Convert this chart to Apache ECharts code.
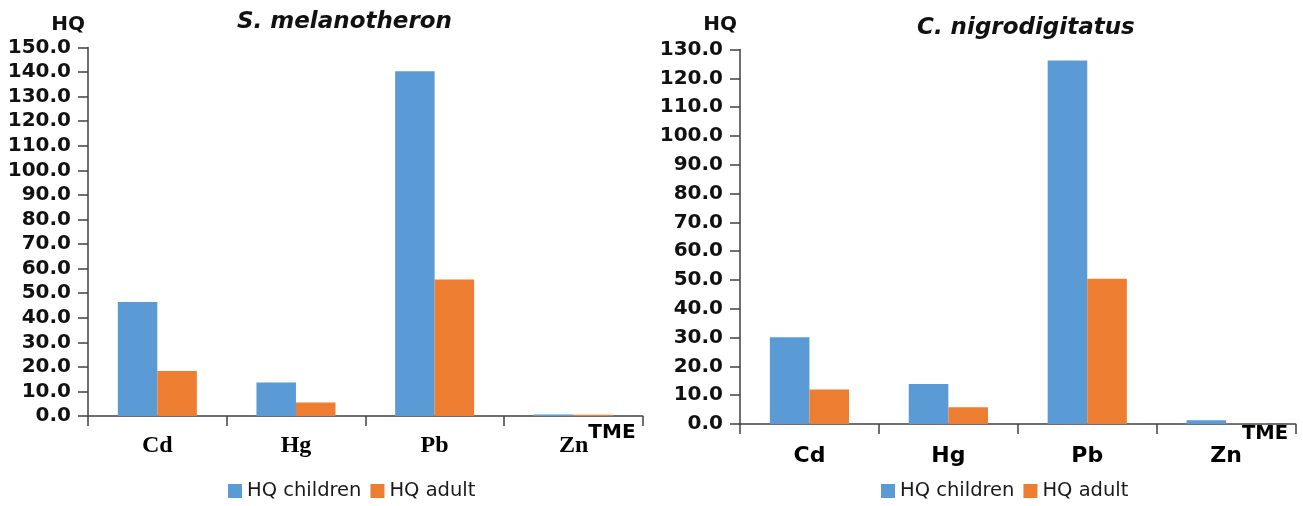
<!DOCTYPE html>
<html>
<head>
<meta charset="utf-8">
<title>Hazard quotients of trace metals</title>
<script src="https://cdn.jsdelivr.net/npm/echarts@6/dist/echarts.min.js"></script>
<style>
  html, body { margin: 0; padding: 0; background: #ffffff; }
  #chart { width: 1303px; height: 506px; }
</style>
</head>
<body>
<div id="chart"></div>
<script>
// Metals on the category axis
const categories = ['Cd', 'Hg', 'Pb', 'Zn'];
const seriesNames = ['HQ children', 'HQ adult'];

// Hazard quotients, S. melanotheron
const melanotheronChildren = [46.4, 13.6, 140.3, 0.6];
const melanotheronAdult = [18.3, 5.5, 55.6, 0.5];

// Hazard quotients, C. nigrodigitatus
const nigrodigitatusChildren = [30.1, 13.9, 126.2, 1.3];
const nigrodigitatusAdult = [12.0, 5.8, 50.4, 0.1];

// Species panel titles and axis ranges
const panelTitles = ['S. melanotheron', 'C. nigrodigitatus'];
const yMax = [150, 130];
const yStep = 10;

const BLUE = '#5B9BD5';
const ORANGE = '#ED7D31';
const AXIS = '#404040';
const INK = '#111111';
const SANS = 'DejaVu Sans';
const SERIF = 'Liberation Serif';

function categoryLabel(value) {
  if (value === 'Zn') return '{pad|}{v|Zn}{sup|TME}';
  return '{h|}{v|' + value + '}';
}

// lineBox sets how far the TME superscript sits above the metal symbol
function xAxisFor(gridIndex, family, size, supSize, supWidth, margin, lineBox) {
  return {
    type: 'category',
    gridIndex: gridIndex,
    data: categories,
    axisLine: { show: true, lineStyle: { color: AXIS, width: 1.5 } },
    axisTick: { show: true, length: 10, lineStyle: { color: AXIS, width: 1.5 } },
    axisLabel: {
      margin: margin,
      interval: 0,
      formatter: categoryLabel,
      rich: {
        h: { width: 0, lineHeight: lineBox },
        pad: { width: supWidth, lineHeight: lineBox },
        v: { fontFamily: family, fontWeight: 'bold', fontSize: size, color: '#000', lineHeight: 24, verticalAlign: 'bottom' },
        sup: { fontFamily: SANS, fontWeight: 'bold', fontSize: supSize, color: '#000', lineHeight: 20, verticalAlign: 'top' }
      }
    },
    splitLine: { show: false }
  };
}

function yAxisFor(gridIndex, max, nameGap) {
  return {
    type: 'value',
    gridIndex: gridIndex,
    min: 0,
    max: max,
    interval: yStep,
    name: 'HQ',
    nameLocation: 'end',
    nameGap: nameGap,
    nameTextStyle: {
      align: 'right', fontFamily: SANS, fontWeight: 'bold', fontSize: 20, color: INK,
      padding: [0, 3, 0, 0]
    },
    axisLine: { show: true, lineStyle: { color: AXIS, width: 1.5 } },
    axisTick: { show: true, length: 10, lineStyle: { color: AXIS, width: 1.5 } },
    axisLabel: {
      margin: 17,
      fontFamily: SANS, fontWeight: 'bold', fontSize: 20, color: INK,
      formatter: function (v) { return v.toFixed(1); }
    },
    splitLine: { show: false }
  };
}

function barSeries(name, data, color, gridIndex) {
  return {
    name: name,
    type: 'bar',
    xAxisIndex: gridIndex,
    yAxisIndex: gridIndex,
    data: data,
    barGap: '0%',
    barCategoryGap: '43%',
    itemStyle: { color: color },
    emphasis: { disabled: true }
  };
}

function legendFor(left, top) {
  return {
    left: left,
    top: top,
    padding: 0,
    itemWidth: 14,
    itemHeight: 14,
    itemGap: 9,
    icon: 'rect',
    data: seriesNames,
    textStyle: { fontFamily: SANS, fontSize: 19.5, color: '#1a1a1a' }
  };
}

const chart = echarts.init(document.getElementById('chart'));
chart.setOption({
  animation: false,
  backgroundColor: '#ffffff',
  title: [
    { text: panelTitles[0], left: 237, top: 11, padding: 0,
      textStyle: { fontFamily: SANS, fontStyle: 'italic', fontWeight: 'bold', fontSize: 23, color: INK } },
    { text: panelTitles[1], left: 917, top: 17, padding: 0,
      textStyle: { fontFamily: SANS, fontStyle: 'italic', fontWeight: 'bold', fontSize: 23, color: INK } }
  ],
  legend: [legendFor(228, 481), legendFor(881, 481)],
  grid: [
    { left: 88, top: 47.5, width: 554.6, height: 368.5 },
    { left: 740, top: 49.5, width: 555.6, height: 374.5 }
  ],
  xAxis: [
    xAxisFor(0, SERIF, 24, 20, 48, 7, 35),
    xAxisFor(1, SANS, 22, 19.5, 46, 0, 43)
  ],
  yAxis: [
    yAxisFor(0, yMax[0], 13),
    yAxisFor(1, yMax[1], 15)
  ],
  series: [
    barSeries(seriesNames[0], melanotheronChildren, BLUE, 0),
    barSeries(seriesNames[1], melanotheronAdult, ORANGE, 0),
    barSeries(seriesNames[0], nigrodigitatusChildren, BLUE, 1),
    barSeries(seriesNames[1], nigrodigitatusAdult, ORANGE, 1)
  ]
});
</script>
</body>
</html>
